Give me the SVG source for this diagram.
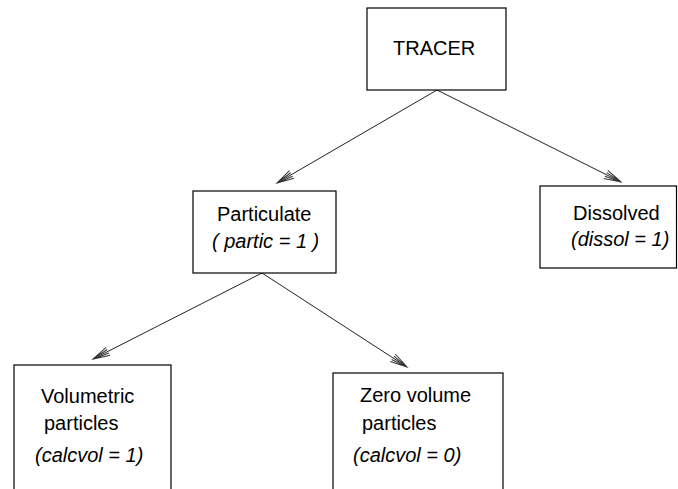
<svg xmlns="http://www.w3.org/2000/svg" width="678" height="489" viewBox="0 0 678 489">
<style>
.box{fill:#fff;stroke:#000;stroke-width:1.2}
.t{font-family:"Liberation Sans",Arial,sans-serif;font-size:20px;fill:#000}
.i{font-style:italic}
.c{stroke:#222;stroke-width:1;fill:none}
</style>
<defs>
<marker id="ah" markerUnits="userSpaceOnUse" markerWidth="20" markerHeight="12" refX="0" refY="0" viewBox="-18 -6 20 12" orient="auto" overflow="visible">
<path d="M-17,-4.5 L0,0 L-17,4.5 M-17,-2 L0,0 L-17,2" fill="none" stroke="#333" stroke-width="1"/>
</marker>
</defs>
<rect width="678" height="489" fill="#fff"/>
<g id="connectors">
<line class="c" x1="437" y1="90" x2="277" y2="183" marker-end="url(#ah)"/>
<line class="c" x1="437" y1="90" x2="621" y2="182" marker-end="url(#ah)"/>
<line class="c" x1="262" y1="273" x2="93" y2="359" marker-end="url(#ah)"/>
<line class="c" x1="262" y1="273" x2="407" y2="367" marker-end="url(#ah)"/>
</g>
<g id="tracer">
<rect class="box" x="367" y="8" width="139" height="82"/>
<text class="t" x="393" y="55">TRACER</text>
</g>
<g id="particulate">
<rect class="box" x="193" y="191" width="143" height="82"/>
<text class="t" x="217" y="221">Particulate</text>
<text class="t i" x="212" y="248">( partic = 1 )</text>
</g>
<g id="dissolved">
<rect class="box" x="540" y="186" width="136.5" height="82"/>
<text class="t" x="573" y="220">Dissolved</text>
<text class="t i" x="571" y="246">(dissol = 1)</text>
</g>
<g id="volumetric">
<rect class="box" x="14" y="365" width="157" height="135"/>
<text class="t" x="41" y="403">Volumetric</text>
<text class="t" x="44" y="430">particles</text>
<text class="t i" x="35" y="462">(calcvol = 1)</text>
</g>
<g id="zerovolume">
<rect class="box" x="333" y="373" width="170" height="130"/>
<text class="t" x="360" y="402">Zero volume</text>
<text class="t" x="362" y="430">particles</text>
<text class="t i" x="353" y="462">(calcvol = 0)</text>
</g>
</svg>
